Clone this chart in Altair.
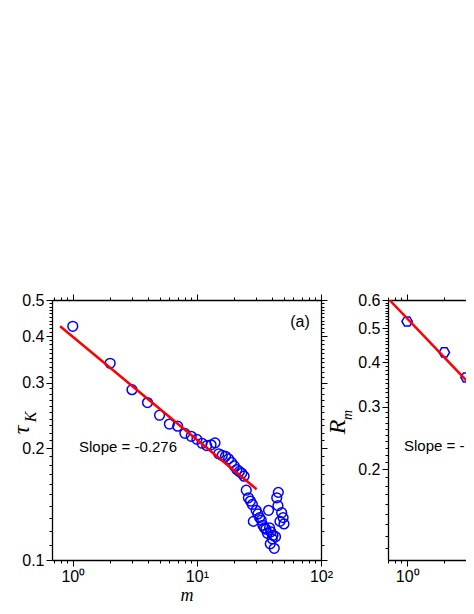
import altair as alt
import pandas as pd

# ---------------- data ----------------
# panel (a): tau_K versus m
m_a = [1, 2, 3, 4, 5, 6, 7, 8, 9, 10, 11, 12, 13, 14, 15, 16, 17, 18, 19, 20,
       21, 22, 23, 24, 25, 26, 27, 28, 28.5, 30, 31, 32, 33, 34, 35, 36, 37,
       37.8, 38.5, 39, 39.5, 40.5, 41, 42, 43, 44, 45.3, 45, 46.7, 48.2, 49.5, 50.3]
tau_k = [0.425, 0.338, 0.287, 0.265, 0.245, 0.232, 0.229, 0.219, 0.215, 0.211,
         0.206, 0.203, 0.204, 0.2065, 0.193, 0.191, 0.190, 0.187, 0.183, 0.179,
         0.175, 0.173, 0.171, 0.168, 0.154, 0.147, 0.144, 0.141, 0.127, 0.136,
         0.133, 0.130, 0.128, 0.124, 0.122, 0.121, 0.118,
         0.136, 0.122, 0.1105, 0.119, 0.114, 0.1165, 0.1075, 0.1155,
         0.147, 0.152, 0.140, 0.127, 0.134, 0.130, 0.125]
fit_m_a = [0.79, 30.3]
fit_tau_a = [0.425, 0.155]

# panel (b): R_m versus m (only the left part is visible)
m_b = [1, 2, 3]
r_m = [0.522, 0.427, 0.363]
fit_m_b = [0.72, 3.5]
fit_r_b = [0.6, 0.337]

# tick values
x_ticks = [0.7, 0.8, 0.9, 1, 2, 3, 4, 5, 6, 7, 8, 9, 10,
           20, 30, 40, 50, 60, 70, 80, 90, 100]
y_ticks_a = [round(0.10 + 0.01 * i, 2) for i in range(41)]
y_ticks_b = [round(0.11 + 0.01 * i, 2) for i in range(50)]

slope_a = "Slope = -0.276"
slope_b = "Slope = -"   # the figure is cut off right after the minus sign

# ---------------- styling ----------------
FONT = "Liberation Sans"
SERIF = "Liberation Serif"
BLUE = "#0000FF"
RED = "#FF0000"
MAJ_X = "abs(log(datum.value)/LN10 - round(log(datum.value)/LN10)) < 0.001"
MAJ_Y = "abs(datum.value*10 - round(datum.value*10)) < 0.001"
XLAB = ("datum.value == 1 ? '10\u2070' : (datum.value == 10 ? '10\u00b9' : "
        "(datum.value == 100 ? '10\u00b2' : ''))")
YLAB = MAJ_Y + " ? format(datum.value, '.1f') : ''"


def axis(orient, values, major_test, label_expr=None, title=None):
    kw = dict(orient=orient, values=values, grid=False,
              domainColor="black", domainWidth=1.3,
              tickColor="black", tickWidth=1,
              tickSize={"condition": {"test": major_test, "value": 6}, "value": 3},
              labelOverlap=False, labelFlush=False, title=title)
    if label_expr:
        kw.update(labels=True, labelExpr=label_expr, labelFont=FONT,
                  labelFontSize=16, labelColor="black", labelPadding=2)
    else:
        kw.update(labels=False)
    if title:
        kw.update(titleFont=SERIF, titleFontStyle="italic", titleFontWeight="normal",
                  titleFontSize=18, titleColor="black", titlePadding=2)
    return alt.Axis(**kw)


def text_layer(txt, x, y, size, font=FONT, italic=False, angle=0, align="center"):
    kw = dict(font=font, fontSize=size, color="black", align=align,
              baseline="middle")
    if italic:
        kw["fontStyle"] = "italic"
    if angle:
        kw["angle"] = angle
    return alt.Chart(pd.DataFrame({"t": [txt]})).mark_text(**kw).encode(
        text="t:N", x=alt.value(x), y=alt.value(y))


# ---------------- panel (a) ----------------
xs_a = alt.Scale(type="log", domain=[0.68, 100], nice=False)
ys_a = alt.Scale(type="log", domain=[0.1, 0.5], nice=False)

df_a = pd.DataFrame({"m": m_a, "v": tau_k})
df_fit_a = pd.DataFrame({"m": fit_m_a, "v": fit_tau_a})

pts_a = alt.Chart(df_a).mark_point(shape="circle", filled=False, size=95,
                                   strokeWidth=1.5, color=BLUE, opacity=1).encode(
    x=alt.X("m:Q", scale=xs_a, axis=axis("bottom", x_ticks, MAJ_X, XLAB, "m")),
    y=alt.Y("v:Q", scale=ys_a, axis=axis("left", y_ticks_a, MAJ_Y, YLAB)))
fit_a = alt.Chart(df_fit_a).mark_line(color=RED, strokeWidth=2.5, clip=True).encode(
    x=alt.X("m:Q", scale=xs_a, axis=axis("top", x_ticks, MAJ_X)),
    y=alt.Y("v:Q", scale=ys_a, axis=axis("right", y_ticks_a, MAJ_Y)))

panel_a = alt.layer(
    pts_a, fit_a,
    text_layer("(a)", 248, 22, 16),
    text_layer(slope_a, 76, 147, 15),
    text_layer("\u03c4", -30, 130, 24, SERIF, True, 270),
    text_layer("K", -21, 117, 16, SERIF, True, 270),
).resolve_axis(x="independent", y="independent").properties(width=269, height=260)

# ---------------- panel (b) ----------------
xs_b = alt.Scale(type="log", domain=[0.7, 3.11], nice=False)
ys_b = alt.Scale(type="log", domain=[0.111, 0.6], nice=False)

df_b = pd.DataFrame({"m": m_b, "v": r_m})
df_fit_b = pd.DataFrame({"m": fit_m_b, "v": fit_r_b})
HEX = "M-1,0L-0.5,-0.866L0.5,-0.866L1,0L0.5,0.866L-0.5,0.866Z"

pts_b = alt.Chart(df_b).mark_point(shape=HEX, filled=False, size=110,
                                   strokeWidth=1.5, color=BLUE, opacity=1,
                                   clip=True).encode(
    x=alt.X("m:Q", scale=xs_b, axis=axis("bottom", x_ticks, MAJ_X, XLAB)),
    y=alt.Y("v:Q", scale=ys_b, axis=axis("left", y_ticks_b, MAJ_Y, YLAB)))
fit_b = alt.Chart(df_fit_b).mark_line(color=RED, strokeWidth=2.5, clip=True).encode(
    x=alt.X("m:Q", scale=xs_b, axis=axis("top", x_ticks, MAJ_X)),
    y=alt.Y("v:Q", scale=ys_b, axis=None))

panel_b = alt.layer(
    pts_b, fit_b,
    text_layer(slope_b, 16, 146, 15, align="left"),
    text_layer("R", -50, 127, 24, SERIF, True, 270),
    text_layer("m", -40, 115, 14, SERIF, True, 270),
).resolve_axis(x="independent", y="independent").properties(width=80, height=260)

chart = alt.hconcat(panel_a, panel_b, spacing=67, bounds="flush").properties(
    padding={"left": 2, "top": 284, "right": -2, "bottom": 0}
).configure_view(stroke=None)

chart.save("out.html", embed_options={"renderer": "svg", "actions": False})
